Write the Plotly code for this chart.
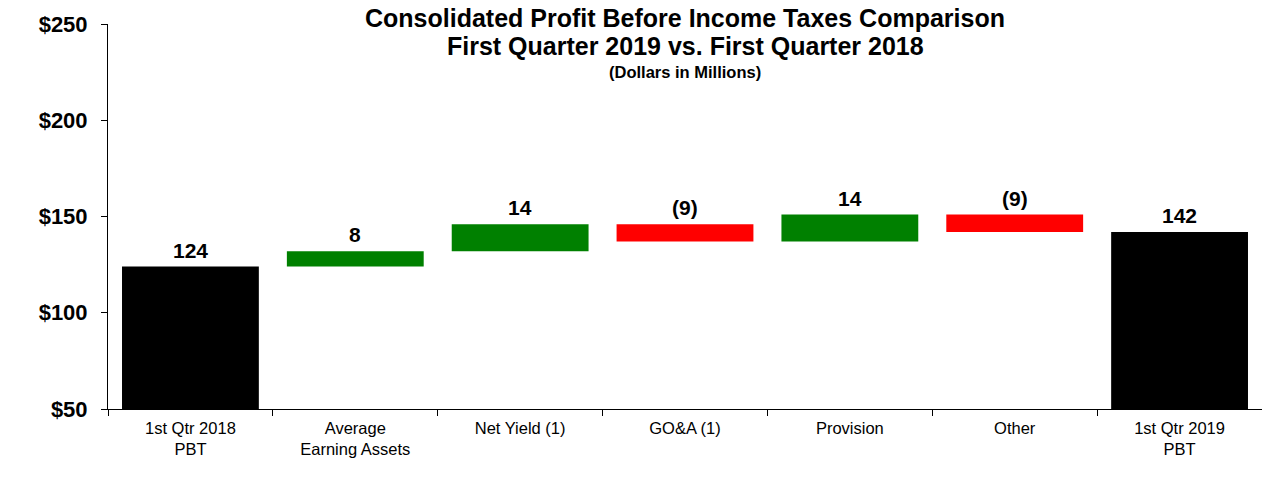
import plotly.graph_objects as go

categories = ["1st Qtr 2018<br>PBT", "Average<br>Earning Assets", "Net Yield (1)", "GO&A (1)",
              "Provision", "Other", "1st Qtr 2019<br>PBT"]
values = [124, 8, 14, -9, 14, -9, 142]
measures = ["absolute", "relative", "relative", "relative", "relative", "relative", "total"]
labels = ["124", "8", "14", "(9)", "14", "(9)", "142"]

FONT = "Liberation Sans, Arial, sans-serif"

fig = go.Figure(go.Waterfall(
    x=categories, y=values, measure=measures,
    increasing=dict(marker=dict(color="#008000")),
    decreasing=dict(marker=dict(color="#FF0000")),
    totals=dict(marker=dict(color="#000000")),
    connector=dict(visible=False),
    textposition="none",
    width=0.83,
    hoverinfo="skip",
))

# label annotations at top of each bar
run = 0
tops = []
for m, v in zip(measures, values):
    if m == "absolute":
        run = v
        tops.append(v)
    elif m == "total":
        tops.append(run)
    else:
        start = run
        run += v
        tops.append(max(start, run))

for c, t, lab in zip(categories, tops, labels):
    fig.add_annotation(x=c, y=t, text="<b>%s</b>" % lab, showarrow=False,
                       yanchor="bottom", yshift=3,
                       font=dict(family=FONT, size=21, color="black"))

fig.add_annotation(xref="paper", yref="paper", x=0.5, y=1, yshift=6, yanchor="middle",
                   text="<b>Consolidated Profit Before Income Taxes Comparison</b>",
                   showarrow=False, font=dict(family=FONT, size=25, color="black"))
fig.add_annotation(xref="paper", yref="paper", x=0.5, y=1, yshift=-22, yanchor="middle",
                   text="<b>First Quarter 2019 vs. First Quarter 2018</b>",
                   showarrow=False, font=dict(family=FONT, size=25, color="black"))
fig.add_annotation(xref="paper", yref="paper", x=0.5, y=1, yshift=-48, yanchor="middle",
                   text="<b>(Dollars in Millions)</b>",
                   showarrow=False, font=dict(family=FONT, size=16.5, color="black"))

fig.update_layout(
    width=1262, height=493,
    margin=dict(l=108, r=0, t=24, b=84),
    paper_bgcolor="white", plot_bgcolor="white",
    showlegend=False,
    xaxis=dict(showline=True, linecolor="black", linewidth=1, ticks="outside",
               tickson="boundaries", ticklen=6, tickcolor="black",
               ticklabelstandoff=4,
               tickfont=dict(family=FONT, size=16.5, color="black"), showgrid=False),
    yaxis=dict(range=[50, 250], tickvals=[50, 100, 150, 200, 250],
               ticktext=["$50", "$100", "$150", "$200", "$250"],
               showline=True, linecolor="black", linewidth=1, ticks="outside",
               ticklen=6, tickcolor="black", showgrid=False, zeroline=False,
               ticklabelstandoff=9,
               tickfont=dict(family=FONT, size=22, color="black", weight="bold")),
    font=dict(family=FONT),
)

fig.write_html("out.html", config={"displayModeBar": False},
               post_script="document.body.style.margin='0';")
